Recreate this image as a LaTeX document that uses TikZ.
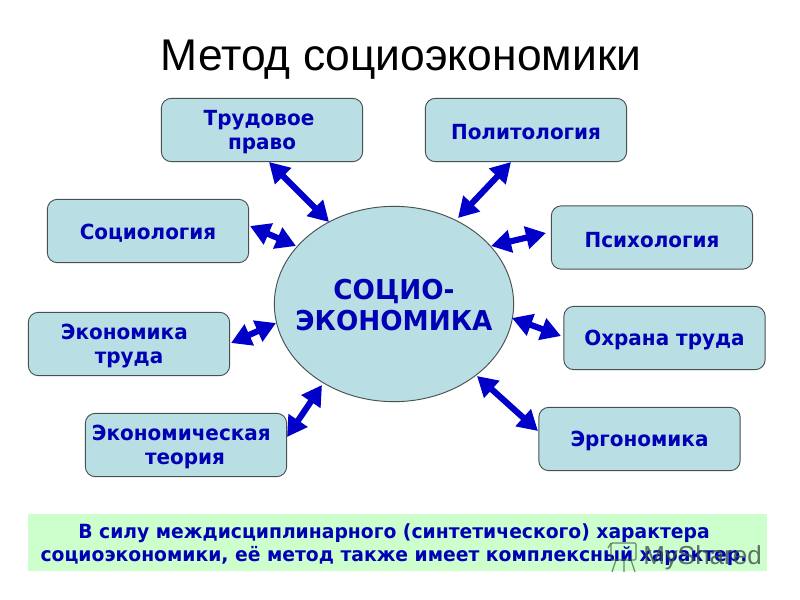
\documentclass[tikz,border=0pt]{standalone}
\usepackage{fontspec}
\setmainfont{Liberation Sans}
\newfontfamily\boxfont{DejaVu Sans}[FakeStretch=0.96]
\usetikzlibrary{arrows.meta,shapes.geometric}
\definecolor{boxfill}{HTML}{B9DEE3}
\definecolor{txtblue}{HTML}{0000B4}
\definecolor{arrowblue}{HTML}{0000C8}
\definecolor{noteg}{HTML}{CCFFCC}
\definecolor{edgegray}{HTML}{485050}
\definecolor{wmgray}{HTML}{3F4F4A}
\newcommand{\lowerline}{\rule{0pt}{15pt}}
\newcommand{\padright}[1]{\rule{#1}{0pt}}
\tikzset{
  topic/.style={draw=edgegray,line width=0.7pt,fill=boxfill,rounded corners=7.5pt,minimum width=151pt,minimum height=47.5pt,inner sep=0pt,align=center,text=txtblue,font=\boxfont\bfseries\fontsize{15.6}{18}\selectfont},
  hub/.style={ellipse,draw=edgegray,line width=0.7pt,fill=boxfill,minimum width=179.5pt,minimum height=146.5pt,inner sep=0pt},
  hubtext/.style={inner sep=0pt,align=center,text=txtblue,font=\boxfont\bfseries\fontsize{20.5}{23.5}\selectfont},
  link/.style={draw=arrowblue,line width=4.6pt,{Triangle[length=15pt,width=16.5pt]}-{Triangle[length=15pt,width=16.5pt]}},
  note/.style={fill=noteg,minimum width=554pt,minimum height=43pt,inner sep=0pt},
  notetext/.style={inner sep=0pt,align=center,text=txtblue,font=\boxfont\bfseries\fontsize{14.65}{17.3}\selectfont},
  headline/.style={text=black,inner sep=0pt,font=\fontsize{33.3}{38}\selectfont},
  wmark/.style={text=wmgray,inner sep=0pt,anchor=west,opacity=0.8,font=\fontsize{19.5}{22}\selectfont},
  wmicon/.style={draw=wmgray,opacity=0.7,line width=0.9pt}
}
\begin{document}
\begin{tikzpicture}[x=0.75pt,y=-0.75pt]
\useasboundingbox (0,0) rectangle (800,600);
\node[headline] (title) at (401,60) {Метод социоэкономики};
\node[topic] (a) at (262,130) {\lowerline Трудовое\padright{4.5pt}\\право};
\node[topic] (b) at (526,130) {\lowerline Политология};
\node[topic] (c) at (148,231) {\lowerline Социология};
\node[topic] (d) at (652,237.5) {\lowerline Психология};
\node[topic] (e) at (129,344) {\lowerline Экономика\padright{7pt}\\труда};
\node[topic] (f) at (664.5,338) {\lowerline Охрана труда};
\node[topic] (g) at (186,445) {\lowerline Экономическая\padright{7pt}\\теория\padright{1.5pt}};
\node[topic] (h) at (639.5,439) {\lowerline Эргономика};
\node[hub] (core) at (394,304) {};
\node[hubtext] (coretext) at (394,305) {СОЦИО-\\ЭКОНОМИКА};
\node[note] (n) at (397.5,542.5) {};
\node[notetext] (ntext) at (394,545) {В силу междисциплинарного (синтетического) характера\\социоэкономики, её метод также имеет комплексный характер.};
\coordinate (a1) at (269,162); \coordinate (a2) at (329,222);
\coordinate (b1) at (511,162); \coordinate (b2) at (458,218);
\coordinate (c1) at (250,226); \coordinate (c2) at (296,246);
\coordinate (d1) at (546,233); \coordinate (d2) at (491,246);
\coordinate (e1) at (231,343); \coordinate (e2) at (276,323);
\coordinate (f1) at (561,336); \coordinate (f2) at (512,318);
\coordinate (g1) at (287,437); \coordinate (g2) at (322,385);
\coordinate (h1) at (538,431); \coordinate (h2) at (477,376);
\foreach \p in {a,b,c,d,e,f,g,h} \draw[link] (\p1) -- (\p2);
\node[wmark] (wm) at (643,558) {MyShared};
\draw[wmicon,rounded corners=1pt] (611,543) -- (636,543) -- (636,560) -- (611,560) -- cycle;
\draw[wmicon] (616,560) -- (612,572) (624,560) -- (624,572) (631,560) -- (635,572) (608,548) -- (611,543);
\end{tikzpicture}
\end{document}
